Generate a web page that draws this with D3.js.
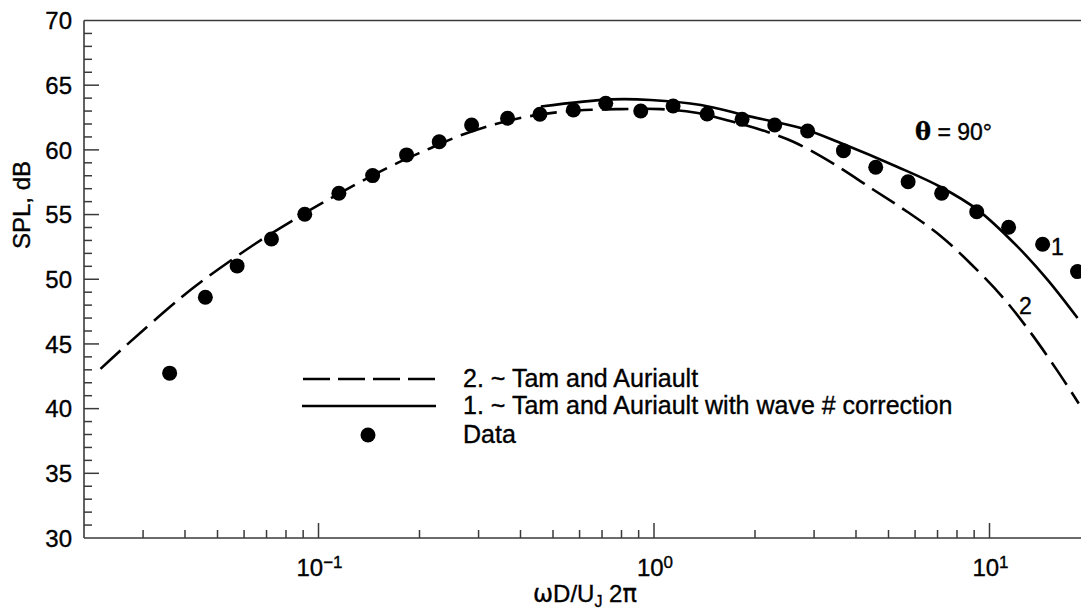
<!DOCTYPE html>
<html>
<head>
<meta charset="utf-8">
<script src="https://cdn.jsdelivr.net/npm/d3@7"></script>
<style>
  html, body { margin: 0; padding: 0; background: #ffffff; }
  svg { display: block; overflow: hidden; }
  text { font-family: "Liberation Sans", Arial, Helvetica, sans-serif; fill: #000; stroke: #000; stroke-width: 0.35px; }
</style>
</head>
<body>
<svg id="chart" width="1081" height="613"></svg>
<script>
// ---- data ----
const dataFreq = [0.0360, 0.0460, 0.0572, 0.0724, 0.0910, 0.115, 0.145, 0.183, 0.229, 0.286,
  0.366, 0.457, 0.575, 0.718, 0.913, 1.14, 1.44, 1.83, 2.29, 2.87,
  3.67, 4.58, 5.72, 7.20, 9.16, 11.4, 14.4, 18.3];
const dataSPL = [42.74, 48.61, 51.03, 53.11, 55.02, 56.65, 58.01, 59.61, 60.63, 61.92,
  62.44, 62.75, 63.08, 63.60, 63.01, 63.39, 62.77, 62.36, 61.92, 61.46,
  59.94, 58.66, 57.54, 56.65, 55.22, 54.02, 52.70, 50.59];

const tamFreq = [0.0224, 0.0268, 0.0388, 0.0463, 0.0653, 0.0842, 0.106, 0.163, 0.210, 0.258,
  0.317, 0.406, 0.512, 0.65, 0.796, 1.047, 1.35, 1.73, 2.18, 2.61,
  3.365, 4.52, 5.70, 7.15, 8.79, 11.0, 13.24, 15.96, 18.45];
const tamSPL = [43.07, 44.92, 48.55, 50.1, 52.8, 54.58, 56.1, 58.7, 60.0, 61.0,
  61.8, 62.5, 62.9, 63.1, 63.15, 63.15, 62.85, 62.15, 61.38, 60.61,
  59.05, 56.9, 55.2, 53.35, 51.2, 48.55, 45.9, 42.9, 40.4];

const corrFreq = [0.46, 0.743, 0.977, 1.38, 1.94, 2.74, 3.60, 5.32, 7.15, 9.22, 12.14, 14.9, 18.3];
const corrSPL = [63.35, 63.9, 63.86, 63.47, 62.57, 61.69, 60.53, 58.68, 57.13, 55.36, 52.5, 49.95, 47.0];

const yTicks = [30, 35, 40, 45, 50, 55, 60, 65, 70];
const xMajorTicks = [0.1, 1, 10];
const xMajorExp = ["\u22121", "0", "1"];
const legendLabels = ["2. ~ Tam and Auriault", "1. ~ Tam and Auriault with wave # correction", "Data"];

// ---- layout ----
const svg = d3.select("#chart");
const mLeft = 84, mTop = 20.5, mBottom = 538;
const decade = 335.5;
const x = d3.scaleLog().domain([0.02, 20]).range([mLeft, mLeft + decade * 3]);
const y = d3.scaleLinear().domain([30, 70]).range([mBottom, mTop]);
const axisColor = "#3a3a3a";

svg.append("line").attr("x1", mLeft).attr("x2", 1090).attr("y1", mTop).attr("y2", mTop)
  .attr("stroke", axisColor).attr("stroke-width", 1.6);
svg.append("line").attr("x1", mLeft).attr("x2", mLeft).attr("y1", mTop).attr("y2", mBottom)
  .attr("stroke", axisColor).attr("stroke-width", 1.6);
svg.append("line").attr("x1", mLeft).attr("x2", 1090).attr("y1", mBottom).attr("y2", mBottom)
  .attr("stroke", axisColor).attr("stroke-width", 1.6);

// y ticks (inward)
const yMinor = d3.range(31, 70).filter(v => v % 5 !== 0);
svg.append("g").selectAll("line").data(yMinor).join("line")
  .attr("x1", mLeft).attr("x2", mLeft + 8).attr("y1", d => y(d)).attr("y2", d => y(d))
  .attr("stroke", axisColor).attr("stroke-width", 1.5);
svg.append("g").selectAll("line").data(yTicks.filter(d => d > 30 && d < 70)).join("line")
  .attr("x1", mLeft).attr("x2", mLeft + 15).attr("y1", d => y(d)).attr("y2", d => y(d))
  .attr("stroke", axisColor).attr("stroke-width", 1.5);
svg.append("g").selectAll("text").data(yTicks).join("text")
  .attr("x", 72).attr("y", d => y(d)).attr("dy", "0.36em")
  .attr("text-anchor", "end").attr("font-size", 24).text(d => d);

// x ticks
const xMinor = [];
[0.01, 0.1, 1, 10].forEach(dec => { for (let k = 2; k <= 9; k++) { const v = dec * k; if (v > 0.02 && v < 20) xMinor.push(v); } });
svg.append("g").selectAll("line").data(xMinor).join("line")
  .attr("x1", d => x(d)).attr("x2", d => x(d)).attr("y1", mBottom).attr("y2", mBottom - 8)
  .attr("stroke", axisColor).attr("stroke-width", 1.5);
svg.append("g").selectAll("line").data(xMajorTicks).join("line")
  .attr("x1", d => x(d)).attr("x2", d => x(d)).attr("y1", mBottom).attr("y2", mBottom - 15)
  .attr("stroke", axisColor).attr("stroke-width", 1.5);
const xl = svg.append("g").selectAll("text").data(xMajorTicks).join("text")
  .attr("x", d => x(d) + 1).attr("y", 576).attr("text-anchor", "middle").attr("font-size", 24);
xl.append("tspan").text("10");
xl.append("tspan").attr("dy", -8).attr("font-size", 17).text((d, i) => xMajorExp[i]);

// axis titles
const xt = svg.append("text").attr("x", 533).attr("y", 602).attr("font-size", 24);
xt.append("tspan").attr("font-family", "DejaVu Sans, sans-serif").attr("font-size", 24).text("\u03C9");
xt.append("tspan").text("D/U");
xt.append("tspan").attr("font-size", 16).attr("dy", 5).text("J");
xt.append("tspan").attr("dy", -5).text(" 2");
xt.append("tspan").attr("font-family", "DejaVu Sans, sans-serif").attr("font-size", 24).text("\u03C0");
svg.append("text").attr("transform", "translate(30,205) rotate(-90)")
  .attr("text-anchor", "middle").attr("font-size", 24).text("SPL, dB");

// curves
const line = d3.line().x(d => x(d[0])).y(d => y(d[1])).curve(d3.curveCatmullRom.alpha(0.5));
const tam = tamFreq.map((f, i) => [f, tamSPL[i]]);
const corr = corrFreq.map((f, i) => [f, corrSPL[i]]);
svg.append("path").attr("d", line(tam)).attr("fill", "none").attr("stroke", "#000")
  .attr("stroke-width", 2.6).attr("stroke-dasharray", "27,9");
svg.append("path").attr("d", line(corr)).attr("fill", "none").attr("stroke", "#000")
  .attr("stroke-width", 2.6);

// data points
svg.append("g").selectAll("circle").data(dataFreq).join("circle")
  .attr("cx", d => x(d)).attr("cy", (d, i) => y(dataSPL[i])).attr("r", 7.5).attr("fill", "#000");

// curve labels
svg.append("text").attr("x", 1051).attr("y", 255).attr("font-size", 23).text("1");
svg.append("text").attr("x", 1019).attr("y", 314).attr("font-size", 23).text("2");
const th = svg.append("text").attr("x", 915).attr("y", 140).attr("font-size", 23);
th.append("tspan").attr("font-weight", "bold").attr("font-family", "DejaVu Serif, serif").attr("font-size", 24).text("\u03B8");
th.append("tspan").text(" = 90\u00B0");

// legend
svg.append("line").attr("x1", 303).attr("x2", 436).attr("y1", 379).attr("y2", 379)
  .attr("stroke", "#000").attr("stroke-width", 2.6).attr("stroke-dasharray", "27,8");
svg.append("line").attr("x1", 302).attr("x2", 436).attr("y1", 406).attr("y2", 406)
  .attr("stroke", "#000").attr("stroke-width", 2.6);
svg.append("circle").attr("cx", 368).attr("cy", 435).attr("r", 7.5).attr("fill", "#000");
svg.append("g").selectAll("text").data(legendLabels).join("text")
  .attr("x", 463).attr("y", (d, i) => [387, 414, 443][i]).attr("font-size", 25).text(d => d);
</script>
</body>
</html>
